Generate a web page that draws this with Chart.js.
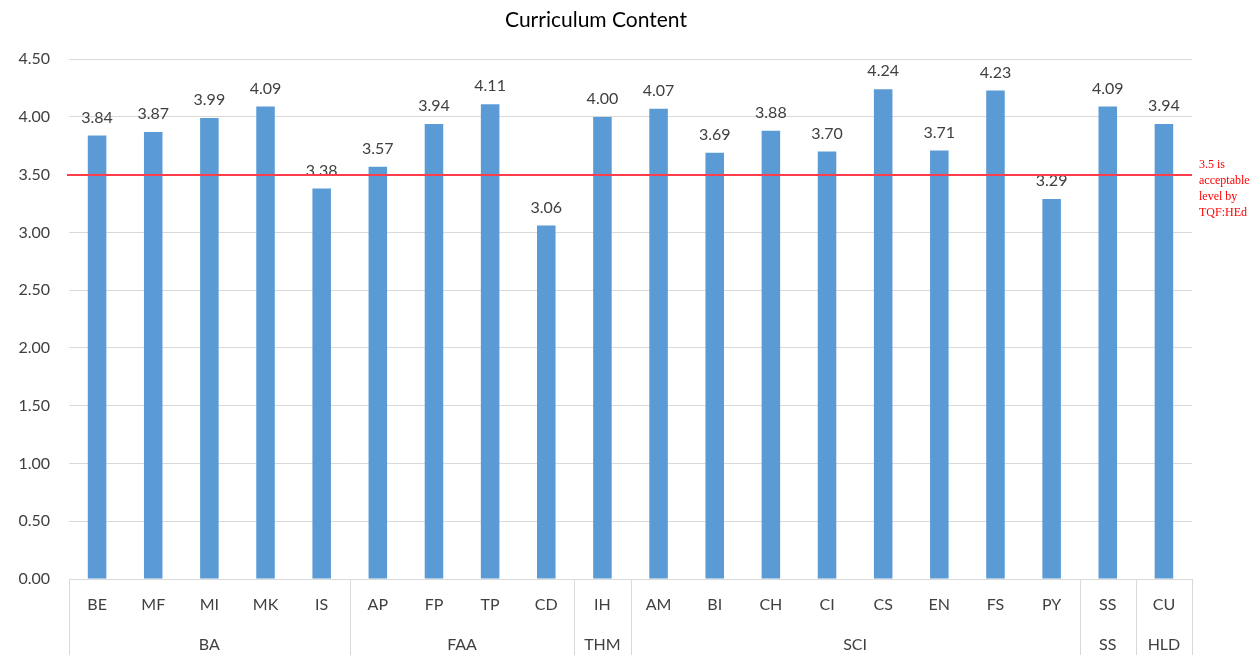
<!DOCTYPE html>
<html>
<head>
<meta charset="utf-8">
<script src="https://cdn.jsdelivr.net/npm/chart.js@4/dist/chart.umd.min.js"></script>
<style>
html,body{margin:0;padding:0;background:#fff;}
#wrap{width:1260px;height:655px;position:relative;}
</style>
</head>
<body>
<div id="wrap"><canvas id="c" width="1260" height="655"></canvas></div>
<script>
const categories = ["BE","MF","MI","MK","IS","AP","FP","TP","CD","IH","AM","BI","CH","CI","CS","EN","FS","PY","SS","CU"];
const values = [3.84,3.87,3.99,4.09,3.38,3.57,3.94,4.11,3.06,4.00,4.07,3.69,3.88,3.70,4.24,3.71,4.23,3.29,4.09,3.94];
const groupNames = ["BA","FAA","THM","SCI","SS","HLD"];
const groupSizes = [5,4,1,8,1,1];
const threshold = 3.5;
const thresholdNote = ["3.5 is","acceptable","level by","TQF:HEd"];
const yTicks = [0,0.5,1,1.5,2,2.5,3,3.5,4,4.5];

const FONT = "Lato, 'Open Sans', sans-serif";
const TXT = "#404040";
const GRID = "#d9d9d9";

const extras = {
  id: "extras",
  afterDraw(chart) {
    const ctx = chart.ctx, x = chart.scales.x, y = chart.scales.y, ca = chart.chartArea;
    ctx.save();
    // data labels
    ctx.font = "16px " + FONT;
    ctx.fillStyle = TXT;
    ctx.textAlign = "center";
    ctx.textBaseline = "bottom";
    const meta = chart.getDatasetMeta(0);
    meta.data.forEach((bar, i) => {
      ctx.fillText(values[i].toFixed(2), bar.x, bar.y - 10);
    });
    // group separators and labels
    const half = (x.getPixelForValue(1) - x.getPixelForValue(0)) / 2;
    const bottom = chart.height;
    let start = 0;
    const bounds = [];
    groupSizes.forEach(n => { bounds.push([start, start + n - 1]); start += n; });
    const edges = [x.getPixelForValue(0) - half];
    bounds.forEach(b => edges.push(x.getPixelForValue(b[1]) + half));
    ctx.fillStyle = GRID;
    edges.forEach(e => {
      ctx.fillRect(Math.round(e), ca.bottom, 1, bottom - ca.bottom);
    });
    ctx.fillStyle = TXT;
    ctx.font = "16px " + FONT;
    ctx.textAlign = "center";
    ctx.textBaseline = "middle";
    bounds.forEach((b, i) => {
      const cx = (edges[i] + edges[i + 1]) / 2;
      ctx.fillText(groupNames[i], cx, ca.bottom + 66);
    });
    // threshold line
    const ty = Math.round(y.getPixelForValue(threshold));
    ctx.fillStyle = "rgb(255,60,75)";
    ctx.fillRect(ca.left - 2, ty - 1, ca.right - ca.left + 2, 2);
    ctx.fillStyle = "rgb(255,0,0)";
    ctx.font = "12px 'Liberation Serif', 'DejaVu Serif', serif";
    ctx.textAlign = "left";
    ctx.textBaseline = "middle";
    thresholdNote.forEach((t, i) => ctx.fillText(t, ca.right + 7, ty - 10 + i * 16));
    ctx.restore();
  }
};

new Chart(document.getElementById("c"), {
  type: "bar",
  data: {
    labels: categories,
    datasets: [{
      data: values,
      backgroundColor: "#5b9bd5",
      borderWidth: 0,
      barPercentage: 0.33,
      categoryPercentage: 1.0
    }]
  },
  options: {
    responsive: false,
    animation: false,
    layout: { padding: { left: 0, right: 68, top: 0, bottom: 0 } },
    plugins: {
      legend: { display: false },
      tooltip: { enabled: false },
      title: {
        display: true,
        text: "Curriculum Content",
        color: "#000",
        font: { family: FONT, size: 21, weight: "normal" },
        padding: { top: 8, bottom: 26 }
      }
    },
    scales: {
      y: {
        min: 0, max: 4.5,
        afterBuildTicks(s) { s.ticks = yTicks.map(v => ({ value: v })); },
        afterFit(s) { s.width = 69; },
        grid: { color: GRID, drawTicks: false },
        border: { display: false },
        ticks: {
          color: TXT,
          padding: 19,
          font: { family: FONT, size: 16 },
          callback: v => Number(v).toFixed(2)
        }
      },
      x: {
        afterFit(s) { s.height = 76; },
        grid: { display: false, drawTicks: false },
        border: { display: true, color: GRID },
        ticks: {
          color: TXT,
          padding: 16,
          maxRotation: 0,
          autoSkip: false,
          font: { family: FONT, size: 16 }
        }
      }
    }
  },
  plugins: [extras]
});
</script>
</body>
</html>
